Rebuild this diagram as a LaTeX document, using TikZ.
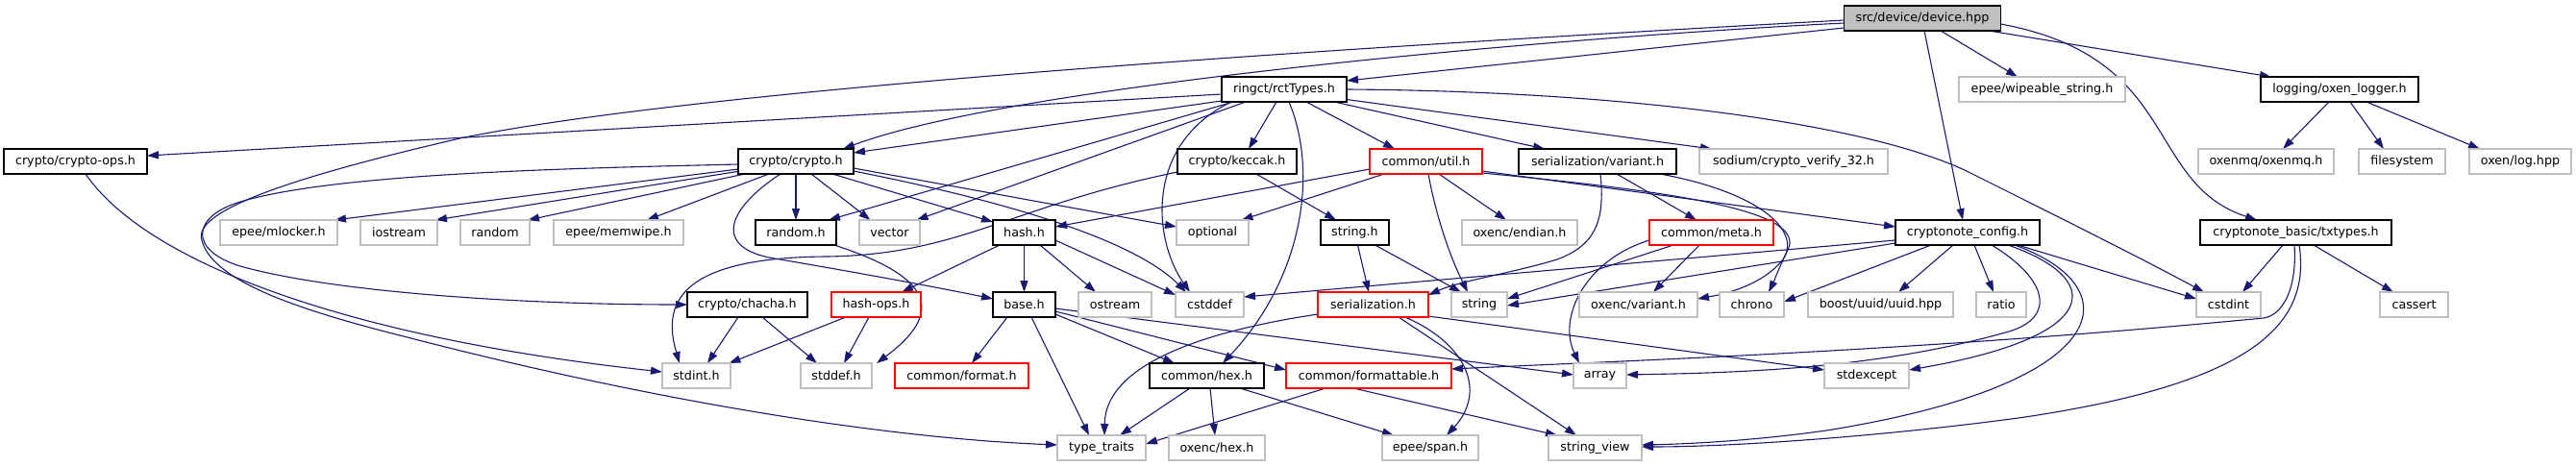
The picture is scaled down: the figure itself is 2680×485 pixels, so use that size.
\documentclass[tikz,border=0pt]{standalone}
\usepackage{fontspec}
\setmainfont{DejaVu Sans}
\usetikzlibrary{arrows.meta,backgrounds}
\definecolor{edgeblue}{HTML}{191970}
\definecolor{extgray}{HTML}{BFBFBF}
\definecolor{maingray}{HTML}{BFBFBF}
\newcommand{\nodefont}{\fontsize{12.7}{15}\selectfont}
\tikzset{
  box/.style={draw, line width=1.2pt, minimum height=26pt, inner sep=0pt, font=\nodefont, anchor=center, fill=white},
  doc/.style={box, draw=black},
  ext/.style={box, draw=extgray},
  trunc/.style={box, draw=red},
  mainnode/.style={box, draw=black, fill=maingray},
  dep/.style={draw=edgeblue, line width=1.1pt, -{Triangle[length=12pt,width=8pt]}},
}
\begin{document}
\begin{tikzpicture}[x=1pt,y=-1pt]
\useasboundingbox (0,0) rectangle (2680,485);
% row 0
\node[mainnode, minimum width=163pt] (dev) at (2000,19) {src/device/device.hpp};
% row 1
\node[doc, minimum width=130pt] (rct) at (1336,93) {ringct/rctTypes.h};
\node[ext, minimum width=173pt] (wipe) at (2124.5,93) {epee/wipeable\_string.h};
\node[doc, minimum width=164pt] (logger) at (2434,93) {logging/oxen\_logger.h};
% row 2
\node[doc, minimum width=149pt] (cops) at (78.5,168) {crypto/crypto-ops.h};
\node[doc, minimum width=120pt] (crypto) at (828,168) {crypto/crypto.h};
\node[doc, minimum width=124pt] (keccak) at (1287,168) {crypto/keccak.h};
\node[trunc, minimum width=117pt] (util) at (1483.5,168) {common/util.h};
\node[doc, minimum width=164pt] (svar) at (1662,168) {serialization/variant.h};
\node[ext, minimum width=196pt] (sodium) at (1866,168) {sodium/crypto\_verify\_32.h};
\node[ext, minimum width=141pt] (oxenmq) at (2357.5,168) {oxenmq/oxenmq.h};
\node[ext, minimum width=90pt] (fs) at (2499,168) {filesystem};
\node[ext, minimum width=106pt] (log) at (2622,168) {oxen/log.hpp};
% row 3
\node[ext, minimum width=122pt] (mlocker) at (290,242) {epee/mlocker.h};
\node[ext, minimum width=80pt] (iostream) at (415,242) {iostream};
\node[ext, minimum width=72pt] (random) at (515,242) {random};
\node[ext, minimum width=135pt] (memwipe) at (643.5,242) {epee/memwipe.h};
\node[doc, minimum width=84pt] (randomh) at (828,242) {random.h};
\node[ext, minimum width=63pt] (vector) at (925.5,242) {vector};
\node[doc, minimum width=65pt] (hash) at (1065.5,242) {hash.h};
\node[ext, minimum width=75pt] (optional) at (1261.5,242) {optional};
\node[doc, minimum width=71pt] (stringh) at (1409.5,242) {string.h};
\node[ext, minimum width=120pt] (endian) at (1581,242) {oxenc/endian.h};
\node[trunc, minimum width=129pt] (meta) at (1780.5,242) {common/meta.h};
\node[doc, minimum width=150pt] (config) at (2047,242) {cryptonote\_config.h};
\node[doc, minimum width=199pt] (txtypes) at (2388.5,242) {cryptonote\_basic/txtypes.h};
% row 4
\node[doc, minimum width=125pt] (chacha) at (777.5,317) {crypto/chacha.h};
\node[trunc, minimum width=93pt] (hashops) at (911.5,317) {hash-ops.h};
\node[doc, minimum width=65pt] (base) at (1065.5,317) {base.h};
\node[ext, minimum width=76pt] (ostream) at (1160,317) {ostream};
\node[ext, minimum width=71pt] (cstddef) at (1258.5,317) {cstddef};
\node[trunc, minimum width=115pt] (ser) at (1428.5,317) {serialization.h};
\node[ext, minimum width=58pt] (string) at (1539,317) {string};
\node[ext, minimum width=123pt] (oxvariant) at (1704.5,317) {oxenc/variant.h};
\node[ext, minimum width=67pt] (chrono) at (1822.5,317) {chrono};
\node[ext, minimum width=151pt] (uuid) at (1956.5,317) {boost/uuid/uuid.hpp};
\node[ext, minimum width=52pt] (ratio) at (2082,317) {ratio};
\node[ext, minimum width=67pt] (cstdint) at (2318.5,317) {cstdint};
\node[ext, minimum width=71pt] (cassert) at (2511.5,317) {cassert};
% row 5
\node[ext, minimum width=71pt] (stdint) at (724.5,391) {stdint.h};
\node[ext, minimum width=74pt] (stddef) at (870,391) {stddef.h};
\node[trunc, minimum width=139pt] (format) at (1000.5,391) {common/format.h};
\node[doc, minimum width=119pt] (hex) at (1255.5,391) {common/hex.h};
\node[trunc, minimum width=172pt] (formattable) at (1424,391) {common/formattable.h};
\node[ext, minimum width=55pt] (array) at (1664.5,391) {array};
\node[ext, minimum width=88pt] (stdexcept) at (1942,391) {stdexcept};
% row 6
\node[ext, minimum width=92pt] (typetraits) at (1146,466) {type\_traits};
\node[ext, minimum width=100pt] (oxhex) at (1266,466) {oxenc/hex.h};
\node[ext, minimum width=100pt] (span) at (1488,466) {epee/span.h};
\node[ext, minimum width=97pt] (sview) at (1659.5,466) {string\_view};

\begin{scope}[on background layer]
% device.hpp
\draw[dep] ([shift={(-81.5,10)}]dev.center) -- ([shift={(65,-9)}]rct.center);
\draw[dep] ([shift={(-81.5,5)}]dev.center) .. controls (1600,40) and (1050,90) .. ([shift={(49,-13)}]crypto.center);
\draw[dep] ([shift={(-81.5,2)}]dev.center) .. controls (1200,60) and (700,100) .. (483,143) .. controls (300,185) and (200,220) .. (210,250) .. controls (220,290) and (300,320) .. (420,350) .. controls (650,410) and (900,455) .. ([shift={(-46,-3)}]typetraits.center);
\draw[dep] ([shift={(19,13)}]dev.center) -- ([shift={(-25.5,-13)}]wipe.center);
\draw[dep] ([shift={(69,13)}]dev.center) -- ([shift={(-71,-13)}]logger.center);
\draw[dep] ([shift={(2,13)}]dev.center) -- ([shift={(-5,-13)}]config.center);
\draw[dep] ([shift={(81.5,6)}]dev.center) .. controls (2270,60) and (2230,190) .. ([shift={(-40.5,-13)}]txtypes.center);
% rctTypes.h
\draw[dep] ([shift={(-65,5)}]rct.center) -- ([shift={(74.5,-6)}]cops.center);
\draw[dep] ([shift={(-65,12)}]rct.center) -- ([shift={(60,-9)}]crypto.center);
\draw[dep] ([shift={(-53,13)}]rct.center) -- ([shift={(34,-13)}]randomh.center);
\draw[dep] ([shift={(-40,13)}]rct.center) -- ([shift={(28,-13)}]vector.center);
\draw[dep] ([shift={(-8,13)}]rct.center) -- ([shift={(12,-13)}]keccak.center);
\draw[dep] ([shift={(5,13)}]rct.center) .. controls (1372,180) and (1355,290) .. ([shift={(16.5,-13)}]hex.center);
\draw[dep] ([shift={(23,13)}]rct.center) -- ([shift={(-32.5,-13)}]util.center);
\draw[dep] ([shift={(52,13)}]rct.center) -- ([shift={(-55,-13)}]svar.center);
\draw[dep] ([shift={(61,10)}]rct.center) -- ([shift={(-85,-13)}]sodium.center);
\draw[dep] ([shift={(65,0)}]rct.center) .. controls (1700,95) and (1950,130) .. (2050,180) .. controls (2150,230) and (2230,270) .. ([shift={(-25.5,-13)}]cstdint.center);
\draw[dep] ([shift={(-55,13)}]rct.center) .. controls (1190,150) and (1200,250) .. ([shift={(-20.5,-13)}]cstddef.center);
% crypto.h
\draw[dep] ([shift={(-60,8)}]crypto.center) -- ([shift={(58,-13)}]mlocker.center);
\draw[dep] ([shift={(-58,10)}]crypto.center) -- ([shift={(38,-13)}]iostream.center);
\draw[dep] ([shift={(-53,13)}]crypto.center) -- ([shift={(34,-13)}]random.center);
\draw[dep] ([shift={(-28,13)}]crypto.center) -- ([shift={(29.5,-13)}]memwipe.center);
\draw[dep] ([shift={(0,13)}]crypto.center) -- ([shift={(0,-13)}]randomh.center);
\draw[dep] ([shift={(16,13)}]crypto.center) -- ([shift={(-20,-13)}]vector.center);
\draw[dep] ([shift={(38,13)}]crypto.center) -- ([shift={(-32.5,-11)}]hash.center);
\draw[dep] ([shift={(60,7)}]crypto.center) -- ([shift={(-37.5,-6)}]optional.center);
\draw[dep] ([shift={(60,10)}]crypto.center) .. controls (1050,210) and (1180,250) .. ([shift={(-24.5,-13)}]cstddef.center);
\draw[dep] ([shift={(-16,13)}]crypto.center) .. controls (760,215) and (740,255) .. (800,268) .. controls (900,285) and (980,300) .. ([shift={(-32.5,-6)}]base.center);
\draw[dep] ([shift={(-60,3)}]crypto.center) .. controls (600,175) and (350,180) .. (250,210) .. controls (200,225) and (195,260) .. (250,277) .. controls (350,305) and (550,317) .. ([shift={(-62.5,0)}]chacha.center);
% keccak.h
\draw[dep] ([shift={(20,13)}]keccak.center) -- ([shift={(-19.5,-13)}]stringh.center);
\draw[dep] ([shift={(-62,11)}]keccak.center) .. controls (1050,215) and (1000,265) .. (860,267) .. controls (700,268) and (690,320) .. ([shift={(-17.5,-13)}]stdint.center);
% hash.h
\draw[dep] ([shift={(-25.5,13)}]hash.center) -- ([shift={(26.5,-13)}]hashops.center);
\draw[dep] ([shift={(0,13)}]hash.center) -- ([shift={(0,-13)}]base.center);
\draw[dep] ([shift={(16.5,13)}]hash.center) -- ([shift={(-20,-13)}]ostream.center);
\draw[dep] ([shift={(32.5,8)}]hash.center) -- ([shift={(-35.5,-10)}]cstddef.center);
% common/util.h
\draw[dep] ([shift={(-58.5,8)}]util.center) -- ([shift={(32.5,-6)}]hash.center);
\draw[dep] ([shift={(-43.5,13)}]util.center) -- ([shift={(30,-13)}]optional.center);
\draw[dep] ([shift={(2.5,13)}]util.center) .. controls (1495,230) and (1510,270) .. ([shift={(-12,-13)}]string.center);
\draw[dep] ([shift={(13.5,13)}]util.center) -- ([shift={(-14,-13)}]endian.center);
\draw[dep] ([shift={(58.5,10)}]util.center) -- ([shift={(-75,-6)}]config.center);
\draw[dep] ([shift={(58.5,12)}]util.center) .. controls (1750,200) and (1880,220) .. (1860,260) .. controls (1850,280) and (1846,292) .. ([shift={(17.5,-13)}]chrono.center);
% serialization/variant.h
\draw[dep] ([shift={(3,13)}]svar.center) .. controls (1670,230) and (1660,255) .. (1620,270) .. controls (1570,285) and (1520,292) .. ([shift={(57.5,-10)}]ser.center);
\draw[dep] ([shift={(20,13)}]svar.center) -- ([shift={(-15.5,-13)}]meta.center);
\draw[dep] ([shift={(65,13)}]svar.center) .. controls (1830,200) and (1875,240) .. (1855,270) .. controls (1835,295) and (1800,305) .. ([shift={(61.5,-6)}]oxvariant.center);
% string.h
\draw[dep] ([shift={(3,13)}]stringh.center) -- ([shift={(-4.5,-13)}]ser.center);
\draw[dep] ([shift={(21,13)}]stringh.center) -- ([shift={(-19,-13)}]string.center);
% common/meta.h
\draw[dep] ([shift={(-39.5,13)}]meta.center) -- ([shift={(29,-6)}]string.center);
\draw[dep] ([shift={(-12.5,13)}]meta.center) -- ([shift={(15.5,-13)}]oxvariant.center);
\draw[dep] ([shift={(-64.5,8)}]meta.center) .. controls (1650,270) and (1620,330) .. ([shift={(-21.5,-13)}]array.center);
% cryptonote_config.h
\draw[dep] ([shift={(-75,8)}]config.center) -- ([shift={(35.5,-8)}]cstddef.center);
\draw[dep] ([shift={(-75,11)}]config.center) -- ([shift={(29,1)}]string.center);
\draw[dep] ([shift={(-38,13)}]config.center) -- ([shift={(33.5,-3)}]chrono.center);
\draw[dep] ([shift={(-15,13)}]config.center) -- ([shift={(18.5,-13)}]uuid.center);
\draw[dep] ([shift={(7,13)}]config.center) -- ([shift={(-8,-13)}]ratio.center);
\draw[dep] ([shift={(25,13)}]config.center) .. controls (2130,290) and (2140,330) .. (2090,345) .. controls (1950,385) and (1800,388) .. ([shift={(27.5,-1)}]array.center);
\draw[dep] ([shift={(42,13)}]config.center) .. controls (2190,290) and (2190,350) .. ([shift={(44,-6)}]stdexcept.center);
\draw[dep] ([shift={(49,13)}]config.center) .. controls (2220,300) and (2200,400) .. (1900,448) .. controls (1830,458) and (1760,462) .. ([shift={(48.5,-3)}]sview.center);
\draw[dep] ([shift={(52,13)}]config.center) -- ([shift={(-33.5,-6)}]cstdint.center);
% cryptonote_basic/txtypes.h
\draw[dep] ([shift={(-13.5,13)}]txtypes.center) -- ([shift={(14.5,-13)}]cstdint.center);
\draw[dep] ([shift={(18.5,13)}]txtypes.center) -- ([shift={(-21.5,-13)}]cassert.center);
\draw[dep] ([shift={(-1.5,13)}]txtypes.center) .. controls (2390,300) and (2375,328) .. (2355,331) .. controls (2000,365) and (1700,375) .. ([shift={(86,-7)}]formattable.center);
\draw[dep] ([shift={(3.5,13)}]txtypes.center) .. controls (2405,340) and (2340,400) .. (2100,435) .. controls (1950,455) and (1800,465) .. ([shift={(48.5,-1)}]sview.center);
% logging/oxen_logger.h
\draw[dep] ([shift={(-11,13)}]logger.center) -- ([shift={(17.5,-13)}]oxenmq.center);
\draw[dep] ([shift={(11,13)}]logger.center) -- ([shift={(-19,-13)}]fs.center);
\draw[dep] ([shift={(28,13)}]logger.center) -- ([shift={(-42,-13)}]log.center);
% random.h
\draw[dep] ([shift={(40,13)}]randomh.center) .. controls (960,285) and (990,320) .. ([shift={(42,-13)}]stddef.center);
% crypto/chacha.h
\draw[dep] ([shift={(-9.5,13)}]chacha.center) -- ([shift={(11.5,-13)}]stdint.center);
\draw[dep] ([shift={(15.5,13)}]chacha.center) -- ([shift={(-20,-13)}]stddef.center);
% hash-ops.h
\draw[dep] ([shift={(-31.5,13)}]hashops.center) -- ([shift={(34,-13)}]stdint.center);
\draw[dep] ([shift={(-7.5,13)}]hashops.center) -- ([shift={(8,-13)}]stddef.center);
% crypto-ops.h
\draw[dep] ([shift={(10.5,13)}]cops.center) .. controls (150,270) and (350,350) .. ([shift={(-35.5,-4)}]stdint.center);
% base.h
\draw[dep] ([shift={(-17.5,13)}]base.center) -- ([shift={(10.5,-13)}]format.center);
\draw[dep] ([shift={(7.5,13)}]base.center) -- ([shift={(-13,-13)}]typetraits.center);
\draw[dep] ([shift={(32.5,10)}]base.center) -- ([shift={(-33.5,-13)}]hex.center);
\draw[dep] ([shift={(32.5,7)}]base.center) -- ([shift={(-86,-6)}]formattable.center);
\draw[dep] ([shift={(32.5,4)}]base.center) -- ([shift={(-27.5,-1)}]array.center);
% common/hex.h
\draw[dep] ([shift={(-17.5,13)}]hex.center) -- ([shift={(19,-13)}]typetraits.center);
\draw[dep] ([shift={(3.5,13)}]hex.center) -- ([shift={(-2,-13)}]oxhex.center);
\draw[dep] ([shift={(34.5,13)}]hex.center) -- ([shift={(-38,-13)}]span.center);
% common/formattable.h
\draw[dep] ([shift={(-45,13)}]formattable.center) -- ([shift={(46,-4)}]typetraits.center);
\draw[dep] ([shift={(-16,13)}]formattable.center) -- ([shift={(-39.5,-13)}]sview.center);
% serialization.h
\draw[dep] ([shift={(-57.5,10)}]ser.center) .. controls (1250,345) and (1150,380) .. ([shift={(3,-13)}]typetraits.center);
\draw[dep] ([shift={(33.5,13)}]ser.center) .. controls (1530,360) and (1545,410) .. ([shift={(17,-13)}]span.center);
\draw[dep] ([shift={(26.5,13)}]ser.center) -- ([shift={(-19.5,-13)}]sview.center);
\draw[dep] ([shift={(57.5,12)}]ser.center) -- ([shift={(-44,-6)}]stdexcept.center);
\end{scope}
\end{tikzpicture}
\end{document}
